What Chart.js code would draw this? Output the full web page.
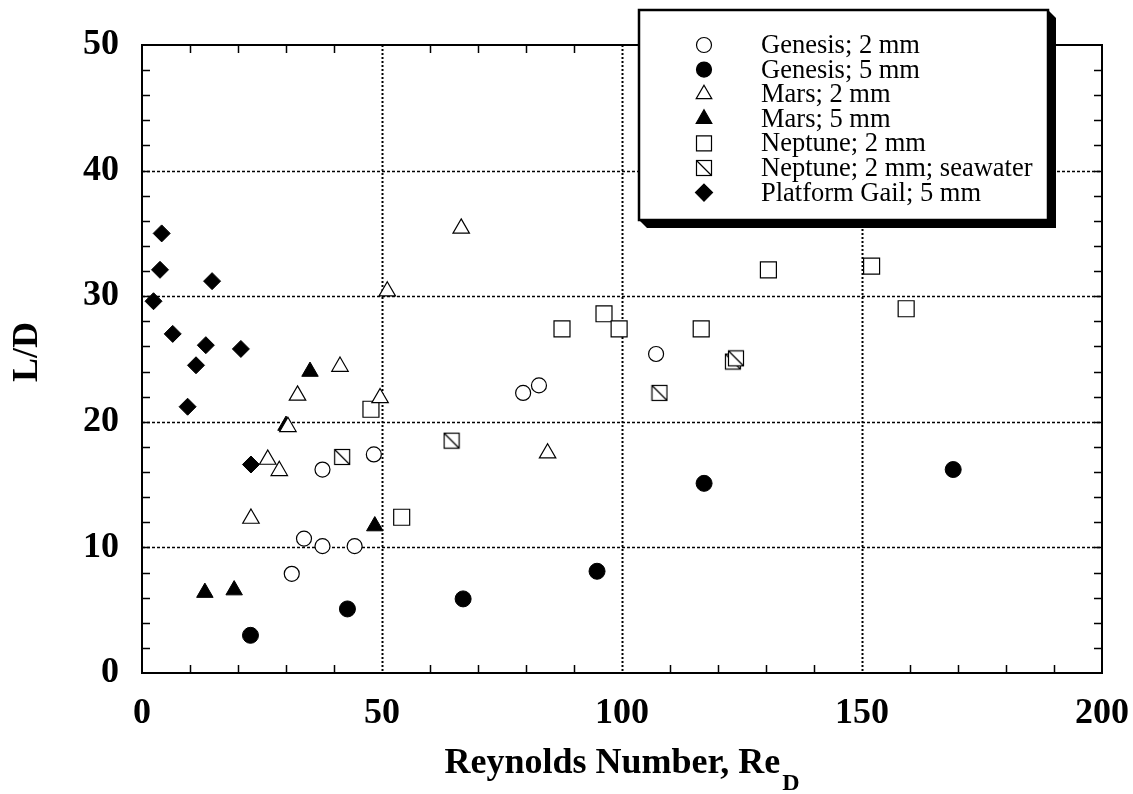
<!DOCTYPE html>
<html>
<head>
<meta charset="utf-8">
<script src="https://cdn.jsdelivr.net/npm/chart.js"></script>
<style>
  html, body { margin: 0; padding: 0; background: #fff; }
  #wrap { width: 1133px; height: 794px; }
</style>
</head>
<body>
<div id="wrap"><canvas id="myChart" width="1133" height="794"></canvas></div>
<script>
// values (Re_D, L/D)
const genesis2X = [31.2, 33.75, 37.6, 37.6, 44.3, 48.3, 79.4, 82.7, 107.1];
const genesis2Y = [7.9, 10.7, 10.1, 16.2, 10.1, 17.4, 22.3, 22.9, 25.4];
const genesis5X = [22.6, 42.8, 66.9, 94.8, 117.1, 169.0];
const genesis5Y = [3.0, 5.1, 5.9, 8.1, 15.1, 16.2];
const mars2X = [22.7, 26.2, 28.6, 30.4, 32.4, 41.25, 49.6, 51.1, 66.5, 84.5];
const mars2Y = [12.3, 17.0, 16.1, 19.6, 22.1, 24.4, 21.9, 30.4, 35.4, 17.5];
const mars5X = [13.1, 19.2, 30.0, 35.0, 48.5];
const mars5Y = [6.4, 6.6, 19.7, 24.0, 11.7];
const neptune2X = [47.7, 54.1, 87.5, 96.25, 99.4, 116.5, 130.5, 152.0, 159.2];
const neptune2Y = [21.0, 12.4, 27.4, 28.6, 27.4, 27.4, 32.1, 32.4, 29.0];
const neptuneSeaX = [41.7, 64.5, 107.8, 123.1, 123.75];
const neptuneSeaY = [17.2, 18.5, 22.3, 24.8, 25.05];
const gailX = [2.4, 3.75, 4.1, 6.4, 9.5, 11.25, 13.3, 14.6, 20.6, 22.7];
const gailY = [29.6, 32.1, 35.0, 27.0, 21.2, 24.5, 26.1, 31.2, 25.8, 16.6];

const seriesLabels = [
    'Genesis; 2 mm', 'Genesis; 5 mm', 'Mars; 2 mm', 'Mars; 5 mm',
    'Neptune; 2 mm', 'Neptune; 2 mm; seawater', 'Platform Gail; 5 mm'
];
const xGrid = [50, 100, 150];
const yGrid = [10, 20, 30, 40];

const SERIF = '"Liberation Serif", "Times New Roman", serif';

function pts(xs, ys) {
    return xs.map((x, i) => ({ x: x, y: ys[i] }));
}

// square with a diagonal, used as an image point style
function crossedSquare() {
    const c = document.createElement('canvas');
    c.width = 18; c.height = 18;
    const g = c.getContext('2d');
    g.fillStyle = '#fff';
    g.fillRect(1, 1, 16, 16);
    g.strokeStyle = '#000';
    g.lineWidth = 1.2;
    g.strokeRect(1.5, 1.5, 15, 15);
    g.beginPath();
    g.moveTo(1.5, 1.5);
    g.lineTo(16.5, 16.5);
    g.stroke();
    return c;
}
const seaStyle = crossedSquare();

function open(label, data, style, r) {
    return { label, data, pointStyle: style, pointRadius: r, pointHoverRadius: r,
        backgroundColor: '#fff', borderColor: '#000', borderWidth: 1.2, showLine: false };
}
function solid(label, data, style, r) {
    return { label, data, pointStyle: style, pointRadius: r, pointHoverRadius: r,
        backgroundColor: '#000', borderColor: '#000', borderWidth: 1, showLine: false };
}

// frame, dotted grid, inside minor ticks
const framePlugin = {
    id: 'frame',
    beforeDatasetsDraw(chart) {
        const { ctx, chartArea: a, scales: { x, y } } = chart;
        ctx.save();
        ctx.strokeStyle = '#000';
        ctx.lineWidth = 2;
        ctx.setLineDash([2, 2]);
        xGrid.forEach(v => {
            const px = Math.round(x.getPixelForValue(v)) + 0.5;
            ctx.beginPath(); ctx.moveTo(px, a.top); ctx.lineTo(px, a.bottom); ctx.stroke();
        });
        ctx.lineWidth = 1.5;
        ctx.setLineDash([3, 2]);
        yGrid.forEach(v => {
            const py = Math.round(y.getPixelForValue(v)) + 0.5;
            ctx.beginPath(); ctx.moveTo(a.left, py); ctx.lineTo(a.right, py); ctx.stroke();
        });
        ctx.setLineDash([]);
        ctx.lineWidth = 1.5;
        for (let v = 10; v < 200; v += 10) {
            if (v % 50 === 0) continue;
            const px = Math.round(x.getPixelForValue(v)) + 0.5;
            ctx.beginPath();
            ctx.moveTo(px, a.bottom); ctx.lineTo(px, a.bottom - 8);
            ctx.moveTo(px, a.top); ctx.lineTo(px, a.top + 8);
            ctx.stroke();
        }
        for (let v = 2; v < 50; v += 2) {
            const py = Math.round(y.getPixelForValue(v)) + 0.5;
            ctx.beginPath();
            ctx.moveTo(a.left, py); ctx.lineTo(a.left + 8, py);
            ctx.moveTo(a.right, py); ctx.lineTo(a.right - 8, py);
            ctx.stroke();
        }
        ctx.lineWidth = 2;
        ctx.strokeRect(a.left, a.top, a.right - a.left, a.bottom - a.top);
        ctx.restore();
    }
};

function marker(ctx, i, cx, cy) {
    ctx.save();
    ctx.strokeStyle = '#000';
    ctx.lineWidth = 1.2;
    const fill = (i === 1 || i === 3 || i === 6) ? '#000' : '#fff';
    ctx.fillStyle = fill;
    ctx.beginPath();
    if (i === 0 || i === 1) {
        ctx.arc(cx, cy, 7.5, 0, Math.PI * 2);
    } else if (i === 2 || i === 3) {
        const r = 9;
        ctx.moveTo(cx, cy - r);
        ctx.lineTo(cx + r * 0.866, cy + r / 2);
        ctx.lineTo(cx - r * 0.866, cy + r / 2);
        ctx.closePath();
    } else if (i === 4) {
        ctx.rect(cx - 7.5, cy - 7.5, 15, 15);
    } else if (i === 5) {
        ctx.restore();
        ctx.drawImage(seaStyle, cx - 9, cy - 9);
        return;
    } else {
        ctx.moveTo(cx, cy - 8.5); ctx.lineTo(cx + 8.5, cy);
        ctx.lineTo(cx, cy + 8.5); ctx.lineTo(cx - 8.5, cy);
        ctx.closePath();
    }
    ctx.fill();
    ctx.stroke();
    ctx.restore();
}

// titles and the boxed legend with its drop shadow
const textPlugin = {
    id: 'texts',
    afterDraw(chart) {
        const { ctx, chartArea: a } = chart;
        ctx.save();
        ctx.fillStyle = '#000';

        // x title with subscript
        const main = 'Reynolds Number, Re';
        ctx.font = 'bold 36px ' + SERIF;
        const w1 = ctx.measureText(main).width;
        ctx.font = 'bold 24px ' + SERIF;
        const w2 = ctx.measureText('D').width;
        const cx = (a.left + a.right) / 2;
        let sx = cx - (w1 + w2 + 2) / 2;
        ctx.textBaseline = 'alphabetic';
        ctx.textAlign = 'left';
        ctx.font = 'bold 36px ' + SERIF;
        ctx.fillText(main, sx, 773);
        ctx.font = 'bold 24px ' + SERIF;
        ctx.fillText('D', sx + w1 + 2, 790);

        // y title
        ctx.save();
        ctx.translate(28, 352);
        ctx.rotate(-Math.PI / 2);
        ctx.font = 'bold 36px ' + SERIF;
        ctx.textAlign = 'center';
        ctx.textBaseline = 'middle';
        ctx.fillText('L/D', 0, 0);
        ctx.restore();

        // legend
        const L = 639, T = 10, R = 1048, B = 220, S = 8;
        ctx.beginPath();
        ctx.moveTo(L, B); ctx.lineTo(L + S, B + S); ctx.lineTo(R + S, B + S);
        ctx.lineTo(R + S, T + S); ctx.lineTo(R, T); ctx.closePath();
        ctx.fill();
        ctx.fillStyle = '#fff';
        ctx.fillRect(L, T, R - L, B - T);
        ctx.strokeStyle = '#000';
        ctx.lineWidth = 2.5;
        ctx.strokeRect(L, T, R - L, B - T);

        ctx.fillStyle = '#000';
        ctx.font = '26.5px ' + SERIF;
        ctx.textAlign = 'left';
        ctx.textBaseline = 'middle';
        seriesLabels.forEach((lab, i) => {
            const ry = 45 + i * 24.6;
            marker(ctx, i, 704, ry);
            ctx.fillStyle = '#000';
            ctx.fillText(lab, 761, ry + 1);
        });
        ctx.restore();
    }
};

const ctx = document.getElementById('myChart').getContext('2d');
new Chart(ctx, {
    type: 'scatter',
    data: {
        datasets: [
            open(seriesLabels[0], pts(genesis2X, genesis2Y), 'circle', 7.5),
            solid(seriesLabels[1], pts(genesis5X, genesis5Y), 'circle', 8),
            open(seriesLabels[2], pts(mars2X, mars2Y), 'triangle', 9.5),
            solid(seriesLabels[3], pts(mars5X, mars5Y), 'triangle', 9.5),
            open(seriesLabels[4], pts(neptune2X, neptune2Y), 'rect', 11.3),
            { label: seriesLabels[5], data: pts(neptuneSeaX, neptuneSeaY), pointStyle: seaStyle,
              pointRadius: 9, showLine: false },
            solid(seriesLabels[6], pts(gailX, gailY), 'rectRot', 8.5)
        ]
    },
    options: {
        responsive: false,
        animation: false,
        layout: { padding: { left: 0, top: 45, right: 31, bottom: 0 } },
        plugins: { legend: { display: false }, tooltip: { enabled: false } },
        scales: {
            x: {
                type: 'linear', min: 0, max: 200,
                afterFit: s => { s.height = 121; s.paddingLeft = 0; s.paddingRight = 0; },
                grid: { display: false, drawTicks: false },
                border: { display: false },
                ticks: { stepSize: 50, color: '#000', padding: 19, maxRotation: 0,
                         font: { family: SERIF, size: 36, weight: 'bold' } }
            },
            y: {
                type: 'linear', min: 0, max: 50,
                afterFit: s => { s.width = 142; s.paddingTop = 0; s.paddingBottom = 0; },
                grid: { display: false, drawTicks: false },
                border: { display: false },
                ticks: { stepSize: 10, color: '#000', padding: 23,
                         font: { family: SERIF, size: 36, weight: 'bold' } }
            }
        }
    },
    plugins: [framePlugin, textPlugin]
});
</script>
</body>
</html>
